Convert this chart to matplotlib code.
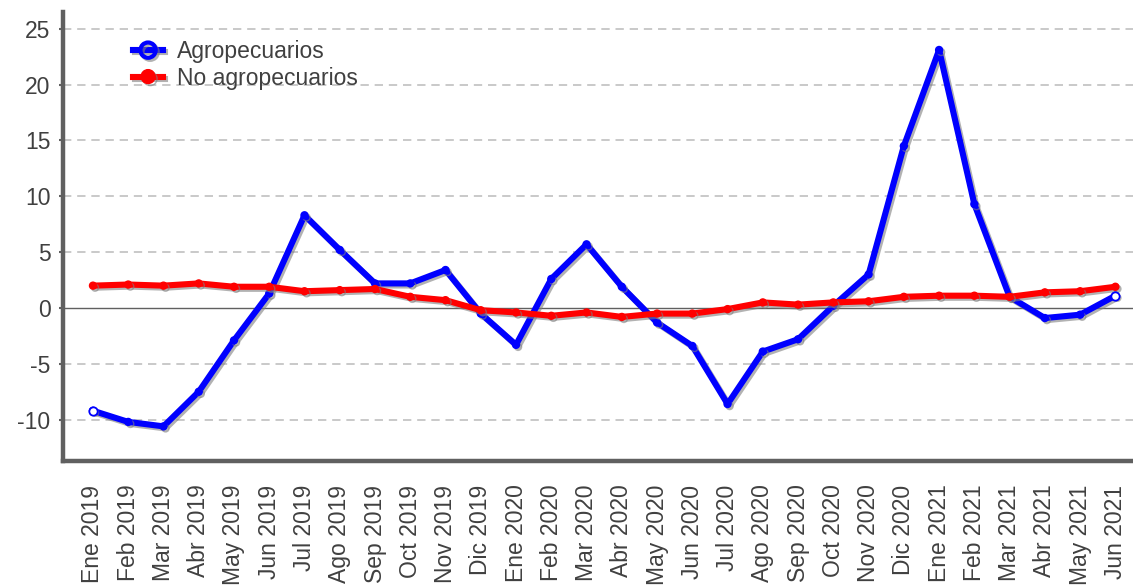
import matplotlib
matplotlib.use("Agg")
import matplotlib.pyplot as plt
import matplotlib.patheffects as pe
from matplotlib.lines import Line2D

plt.rcParams['font.family'] = ['Liberation Sans', 'DejaVu Sans']

months = ["Ene 2019", "Feb 2019", "Mar 2019", "Abr 2019", "May 2019", "Jun 2019",
          "Jul 2019", "Ago 2019", "Sep 2019", "Oct 2019", "Nov 2019", "Dic 2019",
          "Ene 2020", "Feb 2020", "Mar 2020", "Abr 2020", "May 2020", "Jun 2020",
          "Jul 2020", "Ago 2020", "Sep 2020", "Oct 2020", "Nov 2020", "Dic 2020",
          "Ene 2021", "Feb 2021", "Mar 2021", "Abr 2021", "May 2021", "Jun 2021"]

agro = [-9.2, -10.2, -10.6, -7.5, -2.9, 1.3, 8.3, 5.2, 2.2, 2.2, 3.4, -0.5,
        -3.3, 2.6, 5.7, 1.9, -1.3, -3.4, -8.6, -3.9, -2.8, 0.2, 3.0, 14.5,
        23.1, 9.3, 1.0, -0.9, -0.6, 1.1]

no_agro = [2.0, 2.1, 2.0, 2.2, 1.9, 1.9, 1.5, 1.6, 1.7, 1.0, 0.7, -0.2,
           -0.4, -0.7, -0.4, -0.8, -0.5, -0.5, -0.1, 0.5, 0.3, 0.5, 0.6, 1.0,
           1.1, 1.1, 1.0, 1.4, 1.5, 1.9]

y_ticks = [-10, -5, 0, 5, 10, 15, 20, 25]

text_color = '#404040'
spine_color = '#606060'

fig = plt.figure(figsize=(11.33, 5.88), dpi=100)
ax = fig.add_axes([63/1133, 1 - 461/588, 1 - 63/1133, (461 - 12)/588])

x = list(range(len(months)))
shadow = [pe.SimpleLineShadow(offset=(1.5, -1.5), shadow_color='#808080', alpha=0.6), pe.Normal()]

ax.axhline(0, color=spine_color, lw=1.0, zorder=1)

lw = 4.4
ax.plot(x, agro, color='#0000ff', lw=lw, marker='o', ms=5, mfc='#0000ff', mec='#0000ff',
        solid_joinstyle='round', solid_capstyle='round', path_effects=shadow, zorder=3)
ax.plot([x[0], x[-1]], [agro[0], agro[-1]], linestyle='none', marker='o', ms=6,
        mfc='white', mec='#0000ff', mew=1.3, zorder=5)
ax.plot(x, no_agro, color='#ff0000', lw=lw, marker='o', ms=5, mfc='#ff0000', mec='#ff0000',
        solid_joinstyle='round', solid_capstyle='round', path_effects=shadow, zorder=4)

ax.set_ylim(-13.7, 26.5)
ax.set_xlim(-0.85, 29.5)
ax.set_yticks(y_ticks)
ax.set_yticklabels([str(v) for v in y_ticks])
ax.set_xticks(x)
ax.set_xticklabels(months, rotation=90)
ax.tick_params(axis='y', labelsize=16.5, labelcolor=text_color, length=3, width=1.5, color=spine_color, pad=6)
ax.tick_params(axis='x', labelsize=16.5, labelcolor=text_color, length=0, pad=17)

for v in y_ticks:
    if v != 0:
        ax.axhline(v, color='#c0c0c0', lw=1.2, ls=(0, (5, 3.5)), zorder=0)

for s in ['top', 'right']:
    ax.spines[s].set_visible(False)
for s in ['left', 'bottom']:
    ax.spines[s].set_color(spine_color)
    ax.spines[s].set_linewidth(3.2)

handles = [
    Line2D([], [], color='#0000ff', lw=lw, marker='o', ms=11, mfc='none', mec='#0000ff', mew=3,
           path_effects=shadow),
    Line2D([], [], color='#ff0000', lw=lw, marker='o', ms=10, mfc='#ff0000', mec='#ff0000',
           path_effects=shadow),
]
leg = ax.legend(handles, ["Agropecuarios", "No agropecuarios"], loc='upper left',
                bbox_to_anchor=(124/1133, 1 - 31/588), bbox_transform=fig.transFigure,
                frameon=False, fontsize=16.5, handlelength=1.3, handletextpad=0.6,
                labelspacing=0.15, borderaxespad=0)
for t in leg.get_texts():
    t.set_color(text_color)

fig.savefig("out.png", dpi=100)
